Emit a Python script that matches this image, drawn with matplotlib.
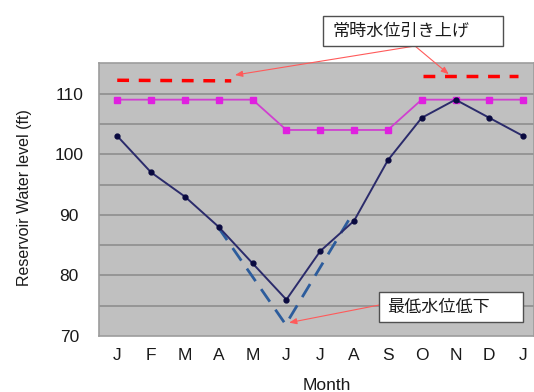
import matplotlib
matplotlib.use("Agg")
import matplotlib.pyplot as plt
from matplotlib.patches import Rectangle

plt.rcParams['font.family'] = ['Liberation Sans', 'Noto Sans CJK JP', 'DejaVu Sans']

months = ["J", "F", "M", "A", "M", "J", "J", "A", "S", "O", "N", "D", "J"]
water_level = [103, 97, 93, 88, 82, 76, 84, 89, 99, 106, 109, 106, 103]
rule_curve = [109, 109, 109, 109, 109, 104, 104, 104, 104, 109, 109, 109, 109]

# raised normal pool (two dashed segments)
raised_left_x = [0, 3.37]
raised_left_y = [112.2, 112.1]
raised_right_x = [9.05, 11.85]
raised_right_y = [112.9, 112.9]

# lowered minimum drawdown (dashed V)
lowered_x = [2.99, 4.98, 6.84]
lowered_y = [87.9, 71.9, 89.1]

label_raise = "常時水位引き上げ"
label_lower = "最低水位低下"

W, H = 534, 392
fig = plt.figure(figsize=(W / 100, H / 100), dpi=100)
ax = fig.add_axes([99.3 / W, 56 / H, 1 - 99.3 / W, 272.7 / H])
ax.set_facecolor("#c0c0c0")
for s in ax.spines.values():
    s.set_color("#9c9c9c")
    s.set_linewidth(1.2)

x = list(range(len(months)))
ax.set_xlim(-0.53, 12.32)
ax.set_ylim(70, 115)
for g in range(75, 115, 5):
    ax.axhline(g, color="#8a8a8a", lw=1.1, zorder=1)

ax.plot(raised_left_x, raised_left_y, color="#ff0000", lw=2.5, ls=(0, (3.4, 2.8)), zorder=3)
ax.plot(raised_right_x, raised_right_y, color="#ff0000", lw=2.5, ls=(0, (3.4, 2.8)), zorder=3)
ax.plot(lowered_x, lowered_y, color="#2c5c9c", lw=2.0, ls=(0, (5.5, 3.5)), zorder=3)

ax.plot(x, rule_curve, color="#d040d0", lw=1.3, marker="s", ms=4.5,
        mfc="#e020e0", mec="#e020e0", zorder=4)
ax.plot(x, water_level, color="#2b2b6b", lw=1.4, marker="o", ms=3.5,
        mfc="#0a0a40", mec="#0a0a40", zorder=5)

ax.set_xticks(x)
ax.set_xticklabels(months, fontsize=12.5, color="#1a1a1a")
ax.set_yticks([70, 80, 90, 100, 110])
ax.set_yticklabels(["70", "80", "90", "100", "110"], fontsize=12.5,
                   color="#1a1a1a", ha="center")
ax.tick_params(axis="y", length=0, pad=21.6)
ax.tick_params(axis="x", length=0, pad=8.5)
ax.set_xlabel("Month", fontsize=12.5, color="#1a1a1a")
ax.xaxis.set_label_coords(0.524, -0.155)
ax.set_ylabel("Reservoir Water level (ft)", fontsize=11.5, color="#1a1a1a")
ax.yaxis.set_label_coords(-0.1555, 0.508)


def fx(px):
    return px / W


def fy(py):
    return (H - py) / H


def text_box(x0, y0, x1, y1, text, tx, ty):
    fig.patches.append(Rectangle((fx(x0), fy(y1)), fx(x1) - fx(x0), fy(y0) - fy(y1),
                                 transform=fig.transFigure, fc="white",
                                 ec="#505050", lw=1.0, zorder=10))
    fig.text(fx(tx), fy(ty), text, ha="left", va="center", fontsize=12.3,
             color="#1a1a1a", family=["Noto Sans CJK JP", "DejaVu Sans"], zorder=11)


arrow_kw = dict(arrowstyle="-|>,head_length=0.45,head_width=0.18",
                color="#ff5a5a", lw=0.8, shrinkA=0, shrinkB=0)

text_box(323.3, 16, 503.3, 46, label_raise, 332, 30.5)
text_box(379.3, 291.7, 522.7, 321.7, label_lower, 387, 306.7)

ax.annotate("", xy=(3.48, 113.06), xycoords="data",
            xytext=(415, H - 46), textcoords="figure pixels",
            annotation_clip=False, arrowprops=arrow_kw)
ax.annotate("", xy=(9.8, 113.2), xycoords="data",
            xytext=(415, H - 46), textcoords="figure pixels",
            annotation_clip=False, arrowprops=arrow_kw)
ax.annotate("", xy=(5.08, 72.2), xycoords="data",
            xytext=(379.3, H - 305), textcoords="figure pixels",
            annotation_clip=False, arrowprops=arrow_kw)

fig.savefig("out.png", dpi=100)
